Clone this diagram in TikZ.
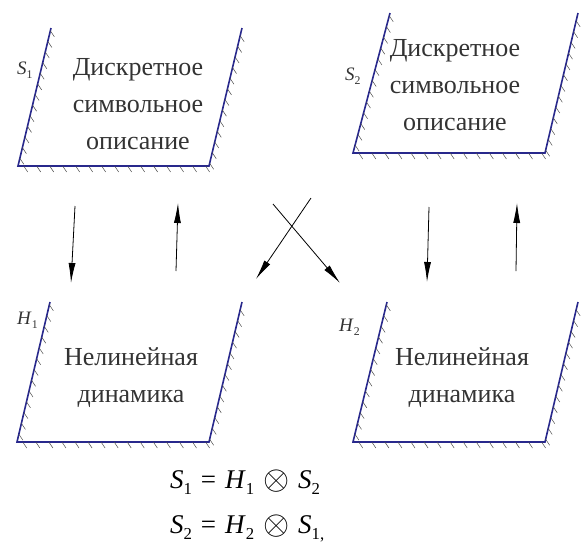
\documentclass[tikz,border=0pt]{standalone}
\usepackage{fontspec}
\usepackage{graphicx}
\setmainfont{Liberation Serif}
\usetikzlibrary{arrows.meta, calc}
\definecolor{wallblue}{RGB}{40,40,140}
\newcommand{\lowsub}[1]{\raisebox{-0.5ex}{\scalebox{0.62}{#1}}}
\newcommand{\opgap}{\hspace{0.33em}}

\begin{document}
\begin{tikzpicture}[x=1pt,y=-1pt,
  wall/.style={draw=wallblue,line width=1.6pt,line join=miter},
  hatch/.style={draw=black!70,line width=0.5pt},
  caption/.style={font=\fontsize{26}{37}\selectfont,text=black!80,align=center},
  tag/.style={font=\fontsize{19}{19}\selectfont,text=black!80,anchor=base west,inner sep=0pt},
  flow/.style={-{Latex[length=20pt,width=7pt]},line width=0.8pt},
  eqn/.style={font=\fontsize{27}{27}\selectfont,anchor=base west,inner sep=0pt}
]
  \useasboundingbox (0,0) rectangle (584,547);

  % hatched walls: bottom-left, top-left, bottom-right x, top-right x
  \foreach \blx/\bly/\tlx/\tly/\brx/\trx in {18/166/51/28/209/242, 17/442/50/302/209/242,
                                             353/153/390/13/545/578, 353/442/387/302/545/578}{
    \draw[wall] (\tlx,\tly) -- (\blx,\bly) -- (\brx,\bly) -- (\trx,\tly);
    \foreach \t in {0.02,0.097,...,0.99}{
      \draw[hatch] ($(\tlx,\tly)!\t!(\blx,\bly)$) -- ++(4,6);
      \draw[hatch] ($(\brx,\bly)!\t!(\trx,\tly)$) -- ++(4,6);
    }
    \foreach \t in {0.03,0.098,...,0.99}
      \draw[hatch] ($(\blx,\bly)!\t!(\brx,\bly)$) -- ++(4,6);
  }

  \node[caption] (desc1) at (138,104) {Дискретное\\символьное\\описание};
  \node[caption] (desc2) at (455,85)  {Дискретное\\символьное\\описание};
  \node[caption] (dyn1)  at (131,378) {Нелинейная\\динамика};
  \node[caption] (dyn2)  at (462,378) {Нелинейная\\динамика};

  \node[tag] (lblS1) at (17,74)  {\textit{S}\lowsub{1}};
  \node[tag] (lblS2) at (345,80) {\textit{S}\lowsub{2}};
  \node[tag] (lblH1) at (17,324) {\textit{H}\lowsub{1}};
  \node[tag] (lblH2) at (339,331){\textit{H}\lowsub{2}};

  % arrow ends
  \coordinate (a1) at (75,206);  \coordinate (b1) at (71,283);
  \coordinate (a2) at (176,271); \coordinate (b2) at (178,203);
  \coordinate (a3) at (273,204); \coordinate (b3) at (340,283);
  \coordinate (a4) at (311,198); \coordinate (b4) at (256,279);
  \coordinate (a5) at (429,207); \coordinate (b5) at (427,282);
  \coordinate (a6) at (516,271); \coordinate (b6) at (517,203);
  \foreach \i in {1,...,6} \draw[flow] (a\i) -- (b\i);

  \node[eqn] (eq1) at (170,488) {\textit{S}\lowsub{1}\opgap=\opgap\textit{H}\lowsub{1}\opgap\raisebox{-0.1ex}{\scalebox{1.35}{$\otimes$}}\opgap\textit{S}\lowsub{2}};
  \node[eqn] (eq2) at (170,533) {\textit{S}\lowsub{2}\opgap=\opgap\textit{H}\lowsub{2}\opgap\raisebox{-0.1ex}{\scalebox{1.35}{$\otimes$}}\opgap\textit{S}\lowsub{1,}};
\end{tikzpicture}
\end{document}
